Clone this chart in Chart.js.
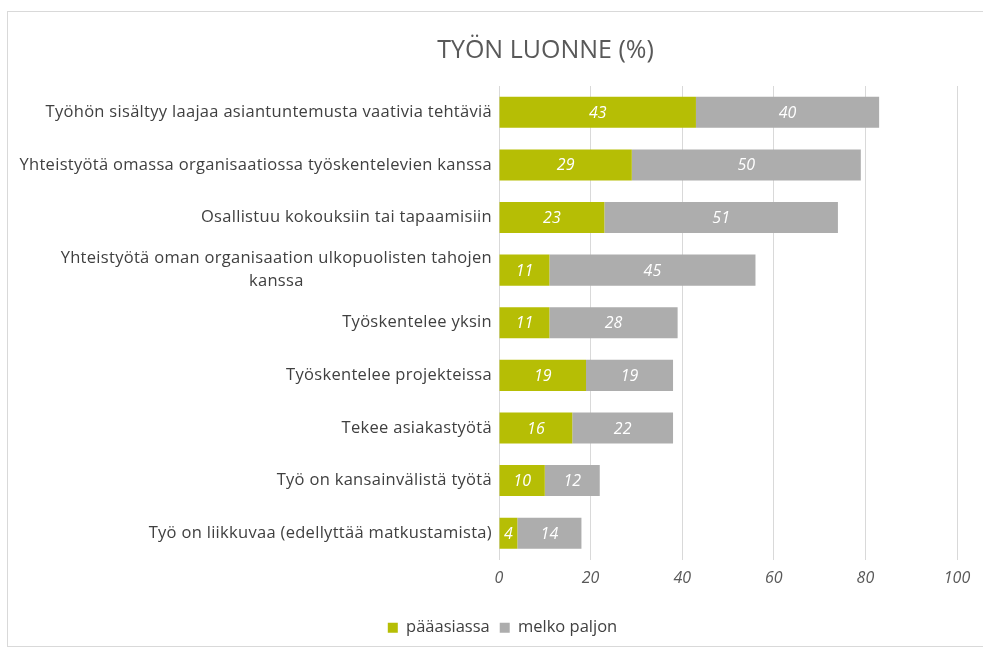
<!DOCTYPE html>
<html lang="fi">
<head>
    <meta charset="UTF-8">
    <title>Työn luonne (%)</title>
    <script src="https://cdn.jsdelivr.net/npm/chart.js"></script>
    <style>
        html, body {
            margin: 0;
            padding: 0;
            background: #ffffff;
            overflow: hidden;
        }
        .frame {
            position: absolute;
            left: 7px;
            top: 11px;
            width: 980px;
            height: 634px;
            border: 1px solid #d9d9d9;
            background: #ffffff;
        }
        canvas {
            display: block;
        }
    </style>
</head>
<body>
    <div class="frame">
        <canvas id="chart" width="976" height="634"></canvas>
    </div>

    <script>
        // Luokat (ylhäältä alas)
        const categories = [
            'Työhön sisältyy laajaa asiantuntemusta vaativia tehtäviä',
            'Yhteistyötä omassa organisaatiossa työskentelevien kanssa',
            'Osallistuu kokouksiin tai tapaamisiin',
            ['Yhteistyötä oman organisaation ulkopuolisten tahojen', 'kanssa'],
            'Työskentelee yksin',
            'Työskentelee projekteissa',
            'Tekee asiakastyötä',
            'Työ on kansainvälistä työtä',
            'Työ on liikkuvaa (edellyttää matkustamista)'
        ];
        const paaasiassa = [43, 29, 23, 11, 11, 19, 16, 10, 4];
        const melkoPaljon = [40, 50, 51, 45, 28, 19, 22, 12, 14];
        const xTicks = [0, 20, 40, 60, 80, 100];

        const GREEN = '#b6be05';
        const GREY = '#adadad';
        const FONT = '"Open Sans", "Noto Sans", sans-serif';

        // Arvot palkkien keskelle
        const valueLabels = {
            id: 'valueLabels',
            afterDatasetsDraw(chart) {
                const ctx = chart.ctx;
                ctx.save();
                ctx.font = 'italic 16px ' + FONT;
                ctx.fillStyle = '#ffffff';
                ctx.textAlign = 'center';
                ctx.textBaseline = 'middle';
                chart.data.datasets.forEach((ds, i) => {
                    chart.getDatasetMeta(i).data.forEach((bar, j) => {
                        const p = bar.getProps(['x', 'y', 'base'], true);
                        ctx.fillText(ds.data[j], (p.x + p.base) / 2, p.y + 1);
                    });
                });
                ctx.restore();
            }
        };

        // Luokkien nimet: rivitetty nimi keskitetään kuten Excelissä
        const categoryLabels = {
            id: 'categoryLabels',
            afterDraw(chart) {
                const ctx = chart.ctx;
                const yScale = chart.scales.y;
                const right = yScale.right - 7;
                const lh = 23;
                ctx.save();
                ctx.font = '16.5px ' + FONT;
                ctx.letterSpacing = '0.3px';
                ctx.fillStyle = '#404040';
                ctx.textBaseline = 'middle';
                categories.forEach((label, i) => {
                    const y = yScale.getPixelForTick(i);
                    const lines = Array.isArray(label) ? label : [label];
                    const w = Math.max(...lines.map(l => ctx.measureText(l).width));
                    const top = y - (lines.length - 1) * lh / 2;
                    lines.forEach((l, k) => {
                        if (lines.length > 1) {
                            ctx.textAlign = 'center';
                            ctx.fillText(l, right - w / 2, top + k * lh);
                        } else {
                            ctx.textAlign = 'right';
                            ctx.fillText(l, right, top + k * lh);
                        }
                    });
                });
                ctx.restore();
            }
        };

        // Otsikko ja selite hieman oikealle kuten alkuperäisessä
        const shiftBoxes = {
            id: 'shiftBoxes',
            afterLayout(chart) {
                chart.titleBlock.left += 63;
                chart.titleBlock.right += 63;
                chart.legend.left += 20;
                chart.legend.right += 20;
            }
        };

        new Chart(document.getElementById('chart'), {
            type: 'bar',
            data: {
                labels: categories,
                datasets: [{
                    label: 'pääasiassa',
                    data: paaasiassa,
                    backgroundColor: GREEN,
                    barPercentage: 0.59,
                    categoryPercentage: 1
                }, {
                    label: 'melko paljon',
                    data: melkoPaljon,
                    backgroundColor: GREY,
                    barPercentage: 0.59,
                    categoryPercentage: 1
                }]
            },
            options: {
                indexAxis: 'y',
                responsive: false,
                animation: false,
                layout: {
                    padding: { left: 0, right: 27, top: 0, bottom: 0 }
                },
                plugins: {
                    title: {
                        display: true,
                        text: 'TYÖN LUONNE (%)',
                        color: '#595959',
                        font: { family: FONT, size: 25, weight: 'normal' },
                        padding: { top: 24, bottom: 20 }
                    },
                    legend: {
                        position: 'bottom',
                        labels: {
                            boxWidth: 10,
                            boxHeight: 10,
                            padding: 10,
                            color: '#404040',
                            font: { family: FONT, size: 16.5 }
                        }
                    },
                    tooltip: { enabled: false }
                },
                scales: {
                    x: {
                        stacked: true,
                        min: 0,
                        max: 100,
                        afterBuildTicks(scale) {
                            scale.ticks = xTicks.map(v => ({ value: v }));
                        },
                        afterFit(scale) {
                            scale.height = 50;
                        },
                        grid: { color: '#d9d9d9', drawTicks: false },
                        border: { display: false },
                        ticks: {
                            padding: 9,
                            color: '#595959',
                            font: { family: FONT, size: 16, style: 'italic' }
                        }
                    },
                    y: {
                        stacked: true,
                        afterFit(scale) {
                            scale.width = 491;
                        },
                        grid: { display: false },
                        border: { display: false },
                        ticks: { display: false }
                    }
                }
            },
            plugins: [valueLabels, categoryLabels, shiftBoxes]
        });
    </script>
</body>
</html>
